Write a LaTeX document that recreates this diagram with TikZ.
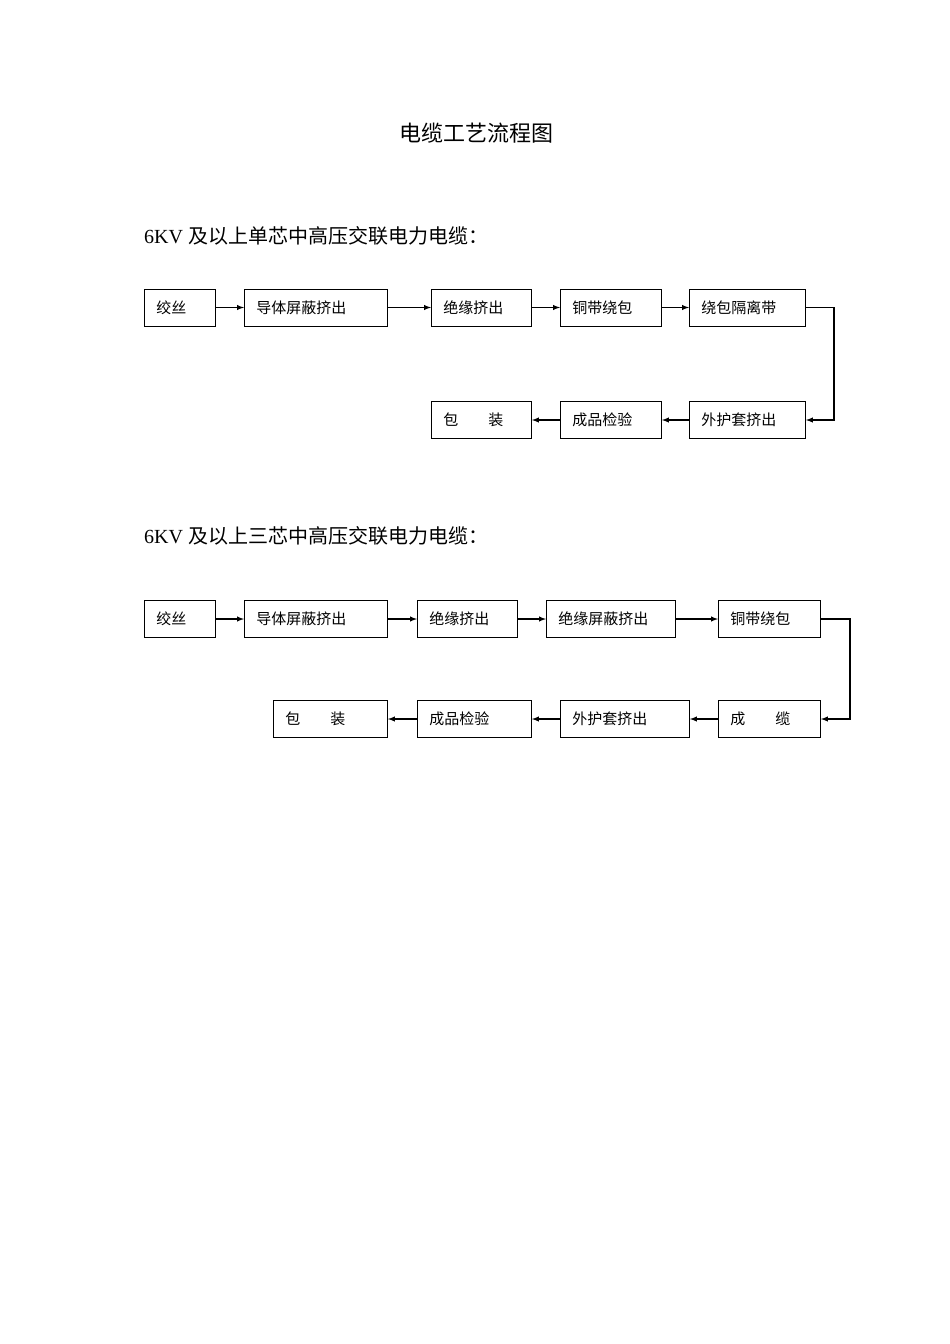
\documentclass[tikz,border=0pt]{standalone}
\usepackage{fontspec}
\setmainfont{Liberation Serif}
\newfontfamily\cjk{Noto Sans CJK SC}
\usetikzlibrary{arrows}
\tikzset{procbox/.style={draw,line width=0.9pt,minimum height=37pt,inner xsep=12pt,align=left,anchor=west,font=\cjk\fontsize{15pt}{17pt}\selectfont},
  flow/.style={line width=1.4pt,-latex}}
% box from left edge x, width w, centre y
\newcommand{\pbox}[5]{\node[procbox,text width=#3pt-24pt] (#1) at (#2,#4) {#5};}
\begin{document}
\begin{tikzpicture}[x=1pt,y=-1pt]
      \useasboundingbox (0,0) rectangle (950,1344);
      \node[font=\cjk\fontsize{22pt}{24pt}\selectfont] (title) at (476,133) {电缆工艺流程图};
      \node[anchor=west,inner sep=0pt,font=\fontsize{20pt}{22pt}\selectfont] (headA) at (144,236) {6KV {\cjk 及以上单芯中高压交联电力电缆：}};
      \node[anchor=west,inner sep=0pt,font=\fontsize{20pt}{22pt}\selectfont] (headB) at (144,536) {6KV {\cjk 及以上三芯中高压交联电力电缆：}};
      % single core
      \pbox{a1}{144}{71}{307.5}{绞丝}
      \pbox{a2}{244}{143}{307.5}{导体屏蔽挤出}
      \pbox{a3}{431}{100}{307.5}{绝缘挤出}
      \pbox{a4}{560}{101}{307.5}{铜带绕包}
      \pbox{a5}{689}{116}{307.5}{绕包隔离带}
      \pbox{a6}{689}{116}{420}{外护套挤出}
      \pbox{a7}{560}{101}{420}{成品检验}
      \pbox{a8}{431}{100}{420}{包\quad\quad 装}
      \foreach \i/\j in {a1/a2,a2/a3,a3/a4,a4/a5,a6/a7,a7/a8}
        \draw[flow] (\i) -- (\j);
      \draw[flow] (a5.east) -- ++(28,0) |- (a6.east);
      % three core
      \pbox{b1}{144}{71}{619}{绞丝}
      \pbox{b2}{244}{143}{619}{导体屏蔽挤出}
      \pbox{b3}{417}{100}{619}{绝缘挤出}
      \pbox{b4}{546}{129}{619}{绝缘屏蔽挤出}
      \pbox{b5}{718}{102}{619}{铜带绕包}
      \pbox{b6}{718}{102}{719}{成\quad\quad 缆}
      \pbox{b7}{560}{129}{719}{外护套挤出}
      \pbox{b8}{417}{114}{719}{成品检验}
      \pbox{b9}{273}{114}{719}{包\quad\quad 装}
      \foreach \i/\j in {b1/b2,b2/b3,b3/b4,b4/b5,b6/b7,b7/b8,b8/b9}
        \draw[flow] (\i) -- (\j);
      \draw[flow] (b5.east) -- ++(29,0) |- (b6.east);
\end{tikzpicture}
\end{document}
